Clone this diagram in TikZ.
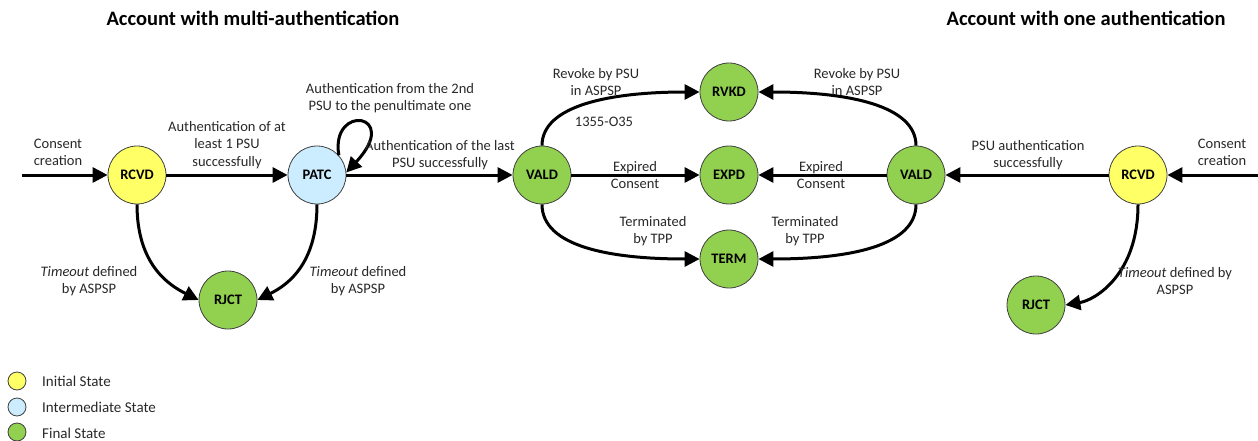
\documentclass[tikz,border=0pt]{standalone}
\usepackage{fontspec}
\setmainfont{Carlito}
\usetikzlibrary{arrows.meta}
\definecolor{ini}{RGB}{255,255,102}
\definecolor{mid}{RGB}{204,236,255}
\definecolor{fin}{RGB}{146,208,80}
\definecolor{bord}{RGB}{64,64,64}
\definecolor{txt}{RGB}{40,40,40}
\begin{document}
\begin{tikzpicture}[x=1pt,y=1pt,
  st/.style={circle,draw=bord,line width=0.8pt,minimum size=58pt,inner sep=0pt,text=black,font=\fontsize{14.5}{16}\selectfont\bfseries},
  tr/.style={line width=3pt,-{Triangle[length=15pt,width=15pt]}},
  lb/.style={align=center,text=txt,font=\fontsize{14.5}{17.2}\selectfont,inner sep=0pt},
  ttl/.style={text=black,font=\fontsize{20.5}{22}\selectfont\bfseries,inner sep=0pt},
  leg/.style={circle,draw=bord,line width=0.8pt,minimum width=18pt,minimum height=17pt,inner sep=0pt},
  legt/.style={anchor=west,text=txt,font=\fontsize{15}{16}\selectfont,inner sep=0pt}]
\useasboundingbox (0,0) rectangle (1258,-441);
% titles
\node[ttl] (t1) at (253,-18) {Account with multi-authentication};
\node[ttl] (t2) at (1086,-18) {Account with one authentication};
% states
\node[st,fill=ini] (rcvd) at (137,-175) {RCVD};
\node[st,fill=mid] (patc) at (317,-175) {PATC};
\node[st,fill=fin] (rjct) at (228,-300) {RJCT};
\node[st,fill=fin] (vald) at (542,-175) {VALD};
\node[st,fill=fin] (rvkd) at (729,-92) {RVKD};
\node[st,fill=fin] (expd) at (729,-175) {EXPD};
\node[st,fill=fin] (term) at (729,-259) {TERM};
\node[st,fill=fin] (valdb) at (916,-175) {VALD};
\node[st,fill=ini] (rcvdb) at (1138,-175) {RCVD};
\node[st,fill=fin] (rjctb) at (1036,-305) {RJCT};
% free ends
\coordinate (inA) at (22,-175);
\coordinate (inB) at (1258,-175);
% connectors
\draw[tr] (inA) -- (rcvd);
\draw[tr] (rcvd) -- (patc);
\draw[tr] (patc.42) .. controls (330,-103) and (402,-113) .. (patc.5);
\draw[tr] (patc) -- (vald);
\draw[tr] (rcvd.south) .. controls +(0,-60) and +(-30,15) .. (rjct.west);
\draw[tr] (patc.south) .. controls +(0,-60) and +(30,15) .. (rjct.east);
\draw[tr] (vald.north) .. controls +(0,40) and +(-90,0) .. (rvkd.west);
\draw[tr] (vald) -- (expd);
\draw[tr] (vald.south) .. controls +(0,-42) and +(-90,0) .. (term.west);
\draw[tr] (valdb.north) .. controls +(0,40) and +(90,0) .. (rvkd.east);
\draw[tr] (valdb) -- (expd);
\draw[tr] (valdb.south) .. controls +(0,-42) and +(90,0) .. (term.east);
\draw[tr] (inB) -- (rcvdb);
\draw[tr] (rcvdb) -- (valdb);
\draw[tr] (rcvdb.south) .. controls +(0,-70) and +(30,5) .. (rjctb.east);
% labels
\node[lb] (l1) at (58,-152) {Consent\\creation};
\node[lb] (l2) at (227,-145) {Authentication of at\\least 1 PSU\\successfully};
\node[lb] (l3) at (390,-98) {Authentication from the 2nd\\PSU to the penultimate one};
\node[lb] (l4) at (440,-155) {Authentication of the last\\PSU successfully};
\node[lb] (l5) at (89,-281) {\textit{Timeout} defined\\by ASPSP};
\node[lb] (l6) at (358,-281) {\textit{Timeout} defined\\by ASPSP};
\node[lb] (l7) at (596,-82) {Revoke by PSU\\in ASPSP};
\node[lb] (l8) at (604,-122) {1355-O35};
\node[lb] (l9) at (635,-175) {Expired\\Consent};
\node[lb] (l10) at (653,-231) {Terminated\\by TPP};
\node[lb] (l11) at (857,-82) {Revoke by PSU\\in ASPSP};
\node[lb] (l12) at (821,-175) {Expired\\Consent};
\node[lb] (l13) at (805,-231) {Terminated\\by TPP};
\node[lb] (l14) at (1028,-155) {PSU authentication\\successfully};
\node[lb] (l15) at (1222,-152) {Consent\\creation};
\node[lb] (l16) at (1175,-281) {\textit{Timeout} defined by\\ASPSP};
% legend
\node[leg,fill=ini] (g1) at (17,-381) {};
\node[leg,fill=mid] (g2) at (17,-407) {};
\node[leg,fill=fin] (g3) at (17,-432) {};
\node[legt] (g1t) at (42,-381) {Initial State};
\node[legt] (g2t) at (42,-407) {Intermediate State};
\node[legt] (g3t) at (42,-433) {Final State};
\end{tikzpicture}
\end{document}
